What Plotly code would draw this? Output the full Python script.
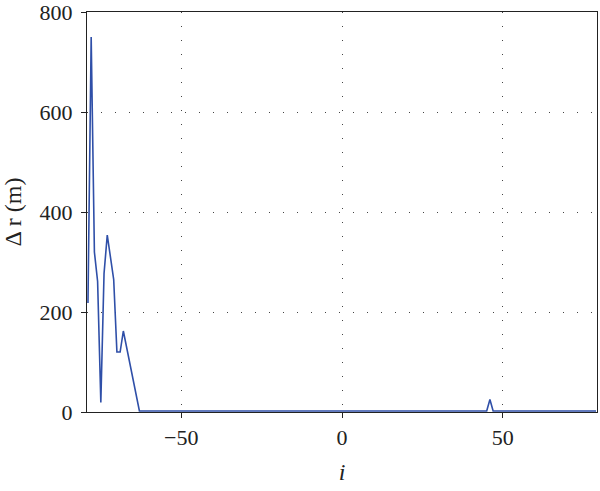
import plotly.graph_objects as go

i_vals = list(range(-79, 80))
dr_vals = [
    218, 750, 320, 261, 19, 277, 354, 310, 265, 120, 120, 162, 130, 97, 65, 32, 2,
    2, 2, 2, 2, 2, 2, 2, 2, 2, 2, 2, 2, 2, 2, 2, 2, 2, 2, 2, 2,
    2, 2, 2, 2, 2, 2, 2, 2, 2, 2, 2, 2, 2, 2, 2, 2, 2, 2, 2, 2,
    2, 2, 2, 2, 2, 2, 2, 2, 2, 2, 2, 2, 2, 2, 2, 2, 2, 2, 2, 2,
    2, 2, 2, 2, 2, 2, 2, 2, 2, 2, 2, 2, 2, 2, 2, 2, 2, 2, 2, 2,
    2, 2, 2, 2, 2, 2, 2, 2, 2, 2, 2, 2, 2, 2, 2, 2, 2, 2, 2, 2,
    2, 2, 2, 2, 2, 2, 2, 2, 25, 2, 2, 2, 2, 2, 2, 2, 2, 2, 2, 2,
    2, 2, 2, 2, 2, 2, 2, 2, 2, 2, 2, 2, 2, 2, 2, 2, 2, 2, 2, 2, 2, 2,
]
dr_vals = dr_vals[:len(i_vals)]

x_ticks = [-50, 0, 50]
y_ticks = [0, 200, 400, 600, 800]

fig = go.Figure()
fig.add_trace(go.Scatter(x=i_vals, y=dr_vals, mode="lines",
                         line=dict(color="#2f4fa8", width=1.6),
                         showlegend=False, hoverinfo="skip"))

font = dict(family="Liberation Serif, DejaVu Serif, serif", size=22, color="#222")

fig.update_layout(
    width=600, height=491,
    margin=dict(l=87, r=3, t=12, b=79),
    paper_bgcolor="white", plot_bgcolor="white",
    font=font,
    xaxis=dict(range=[-79.3, 79.3], tickvals=x_ticks, ticks="outside", ticklen=5,
               tickcolor="#222", showline=True, linecolor="#222", linewidth=1.2,
               mirror=True, showgrid=True, gridcolor="#444", gridwidth=1.4,
               griddash="1px,13px", zeroline=False, automargin=False,
               ticklabeloverflow="allow",
               title=dict(text="<i>i</i>", standoff=14, font=dict(size=24))),
    yaxis=dict(range=[0, 800], tickvals=y_ticks, ticks="outside", ticklen=5,
               tickcolor="#222", showline=True, linecolor="#222", linewidth=1.2,
               mirror=True, showgrid=True, gridcolor="#444", gridwidth=1.4,
               griddash="1px,13px", zeroline=False, automargin=False,
               ticklabelstandoff=4, ticklabeloverflow="allow",
               title=dict(text="Δ r (m)", standoff=14, font=dict(size=24))),
)

fig.write_html("out.html", config={"displayModeBar": False},
               post_script="document.body.style.margin='0';")
